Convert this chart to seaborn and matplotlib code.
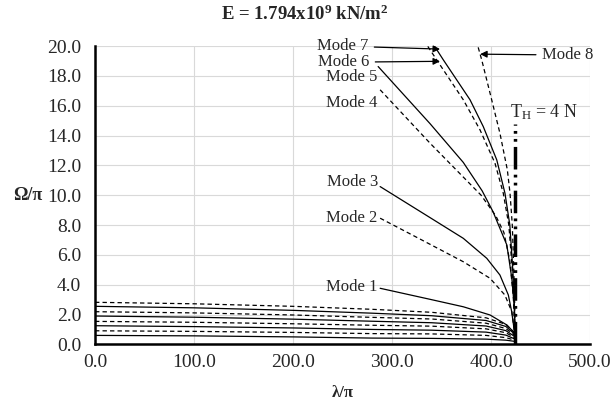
import numpy as np
import pandas as pd
import seaborn as sns
import matplotlib.pyplot as plt

# ---- data ----
# lower family (8 curves, bottom to top), sampled at these lambda/pi values
lam_low = [0, 100, 200, 280, 340, 395, 415, 424]
low_1 = [0.60, 0.57, 0.50, 0.42, 0.40, 0.35, 0.28, 0.20]
low_2 = [0.91, 0.87, 0.80, 0.72, 0.70, 0.60, 0.45, 0.28]
low_3 = [1.25, 1.19, 1.10, 1.00, 0.95, 0.82, 0.62, 0.36]
low_4 = [1.54, 1.48, 1.38, 1.28, 1.22, 1.04, 0.78, 0.44]
low_5 = [1.90, 1.82, 1.69, 1.55, 1.45, 1.23, 0.92, 0.52]
low_6 = [2.19, 2.11, 1.97, 1.81, 1.70, 1.42, 1.06, 0.60]
low_7 = [2.55, 2.45, 2.28, 2.09, 1.92, 1.60, 1.20, 0.68]
low_8 = [2.82, 2.72, 2.55, 2.35, 2.15, 1.78, 1.34, 0.76]
low_curves = [low_1, low_2, low_3, low_4, low_5, low_6, low_7, low_8]

# upper branch, one (lambda, omega) list per mode
mode1_lam = [288, 338.4, 372, 399, 416, 422.5, 424.2]
mode1_om = [3.76, 3.02, 2.52, 1.97, 1.30, 0.85, 0.6]
mode2_lam = [288, 338.4, 372, 399, 414, 421, 424.2]
mode2_om = [8.46, 6.71, 5.54, 4.43, 3.31, 2.19, 0.6]
mode3_lam = [288, 338.4, 372, 395.7, 409, 417.5, 420.9, 423.2, 424.2]
mode3_om = [10.58, 8.5, 7.11, 5.77, 4.65, 3.31, 2.19, 1.07, 0.6]
mode4_lam = [288, 338.4, 390, 405, 413, 419, 422.5, 424.2]
mode4_om = [17.07, 13.49, 10.0, 8.6, 7.5, 5.6, 3.2, 0.6]
mode5_lam = [286, 338.4, 372, 391, 402, 416, 421, 423.5, 424.2]
mode5_om = [18.63, 14.8, 12.2, 10.3, 8.9, 6.66, 4.43, 2.5, 0.6]
mode6_lam = [332, 345.1, 372, 388.9, 404, 412.4, 418, 421.5, 423.5, 424.2]
mode6_om = [20.4, 19.08, 16.4, 14.38, 12.15, 10.13, 8.0, 5.0, 2.5, 0.6]
mode7_lam = [339, 351.8, 378.8, 392.2, 405.8, 414.1, 419, 422, 423.7, 424.2]
mode7_om = [20.4, 19.08, 16.4, 14.6, 12.37, 10.13, 8.0, 5.0, 2.5, 0.6]
mode8_lam = [385, 390.6, 399, 409, 416.5, 419.2, 421.5, 423, 424, 424.2]
mode8_om = [20.4, 19.08, 16.85, 14.16, 11.7, 10.13, 8.0, 5.0, 2.5, 0.6]

modes = {
    'Mode 1': (mode1_lam, mode1_om),
    'Mode 2': (mode2_lam, mode2_om),
    'Mode 3': (mode3_lam, mode3_om),
    'Mode 4': (mode4_lam, mode4_om),
    'Mode 5': (mode5_lam, mode5_om),
    'Mode 6': (mode6_lam, mode6_om),
    'Mode 7': (mode7_lam, mode7_om),
    'Mode 8': (mode8_lam, mode8_om),
}

# T_H = 4 N marker line
th_lam = 424.5
th_top = 14.8

x_ticks = [0, 100, 200, 300, 400, 500]
y_ticks = [0, 2, 4, 6, 8, 10, 12, 14, 16, 18, 20]

# ---- style ----
sns.set_style('white')
plt.rcParams['font.family'] = ['Liberation Serif', 'DejaVu Serif']
plt.rcParams['mathtext.fontset'] = 'custom'
plt.rcParams['mathtext.rm'] = 'Liberation Serif'
plt.rcParams['mathtext.it'] = 'Liberation Serif:italic'
plt.rcParams['mathtext.bf'] = 'Liberation Serif:bold'

solid = '-'
dashed = (0, (3.5, 2.5))

fig = plt.figure(figsize=(6.13, 4.08), dpi=100)
ax = fig.add_axes([0.155, 0.156, 0.8075, 0.731])

# lower family, alternating solid / dashed (bottom one solid)
for i, vals in enumerate(low_curves):
    sns.lineplot(x=lam_low, y=vals, ax=ax, color='black', lw=0.9,
                 linestyle=solid if i % 2 == 0 else dashed, estimator=None)

# upper branch
for i, (name, (lx, ly)) in enumerate(modes.items()):
    sns.lineplot(x=lx, y=ly, ax=ax, color='black', lw=0.9,
                 linestyle=solid if i % 2 == 0 else dashed, estimator=None)

# T_H line
ax.plot([th_lam, th_lam], [0, th_top], color='black', lw=2.5,
        linestyle=(0, (6.5, 1.5, 0.8, 1.5, 0.8, 1.5)))

ax.set_xlim(0, 500)
ax.set_ylim(0, 20)
ax.set_xticks(x_ticks)
ax.set_yticks(y_ticks)
ax.set_xticklabels([f'{v:.1f}' for v in x_ticks], fontsize=14)
ax.set_yticklabels([f'{v:.1f}' for v in y_ticks], fontsize=14)
ax.tick_params(axis='y', length=0, pad=10)
ax.tick_params(axis='x', length=0, pad=7)
ax.grid(True, color='#d9d9d9', lw=0.8)
ax.set_axisbelow(True)
for s in ['top', 'right']:
    ax.spines[s].set_visible(False)
for s in ['left', 'bottom']:
    ax.spines[s].set_color('black')
    ax.spines[s].set_linewidth(1.8)
ax.set_xlabel('')
ax.set_ylabel('')

# mode labels (curves start right at the label)
label_fs = 12
ax.text(285.5, 3.85, 'Mode 1', ha='right', va='center', fontsize=label_fs)
ax.text(285.5, 8.48, 'Mode 2', ha='right', va='center', fontsize=label_fs)
ax.text(286.0, 10.9, 'Mode 3', ha='right', va='center', fontsize=label_fs)
ax.text(285.0, 16.2, 'Mode 4', ha='right', va='center', fontsize=label_fs)
ax.text(285.0, 17.96, 'Mode 5', ha='right', va='center', fontsize=label_fs)

arrow = dict(arrowstyle='-|>', color='black', lw=0.9, mutation_scale=10,
             shrinkA=2, shrinkB=0)
ax.annotate('Mode 7', xy=(348.5, 19.8), xytext=(276, 20.0), ha='right',
            va='center', fontsize=label_fs, arrowprops=arrow, annotation_clip=False)
ax.annotate('Mode 6', xy=(348.5, 18.98), xytext=(277, 18.92), ha='right',
            va='center', fontsize=label_fs, arrowprops=arrow, annotation_clip=False)
ax.annotate('Mode 8', xy=(389, 19.46), xytext=(451.5, 19.4), ha='left',
            va='center', fontsize=label_fs, arrowprops=arrow, annotation_clip=False)

ax.text(419, 15.6, r'T$_\mathrm{H}$ = 4 N', ha='left', va='center', fontsize=13)

fig.text(0.4976, 0.964, r'E = 1.794x10$^{\mathbf{9}}$ kN/m$^{\mathbf{2}}$',
         ha='center', va='center', fontsize=13.5, fontweight='bold')
fig.text(0.045, 1 - 195 / 408, 'Ω/π', ha='center', va='center', fontsize=13,
         fontweight='bold')
fig.text(343 / 613, 1 - 393 / 408, 'λ/π', ha='center', va='center', fontsize=12,
         fontweight='bold')

fig.savefig('out.png', dpi=100)
